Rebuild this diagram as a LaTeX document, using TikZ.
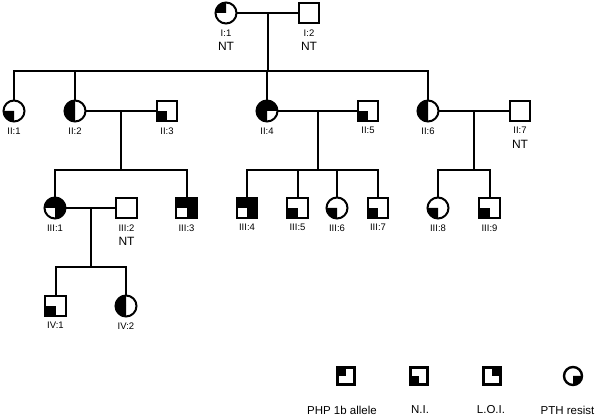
\documentclass[tikz,border=0pt]{standalone}
\usepackage{fontspec}
\setmainfont{Liberation Sans}
\usetikzlibrary{positioning}

% 方块的四分之一涂黑
\newcommand{\sqfill}[2]{\fill (#1.center) rectangle (#1.#2);}
% 圆的四分之一涂黑
\newcommand{\cifill}[3][10.5pt]{\fill (#2.center) -- ++(#3:#1) arc[start angle=#3, delta angle=90, radius=#1] -- cycle;}

\begin{document}
\begin{tikzpicture}[
        x=1pt, y=1pt,
        female/.style={circle, draw=black, fill=white, line width=2pt, minimum size=21pt, inner sep=0pt, outer sep=0pt},
        male/.style={rectangle, draw=black, fill=white, line width=2pt, minimum size=20.5pt, inner sep=0pt, outer sep=0pt},
        keysq/.style={male, minimum size=17pt, line width=2.4pt},
        keyci/.style={female, minimum size=18pt, line width=2.4pt},
        line/.style={line width=2pt},
        sib/.style={line width=2pt, line cap=rect},
        tag/.style={font=\fontsize{9.5}{10}\selectfont, inner sep=0pt},
        nt/.style={font=\fontsize{12}{13}\selectfont, inner sep=0pt},
        keytext/.style={font=\fontsize{11.5}{13}\selectfont, inner sep=0pt}
    ]
    \useasboundingbox (0,0) rectangle (598,-419);

    % ---------- 第一代 ----------
    \node[female] (I1) at (226,-13) {};
    \node[male] (I2) at (309,-13) {};

    % ---------- 第二代 ----------
    \foreach \n/\x in {II1/14, II2/75, II4/267, II6/428}
        \node[female] (\n) at (\x,-111) {};
    \foreach \n/\x in {II3/167, II5/368, II7/520}
        \node[male] (\n) at (\x,-111) {};

    % ---------- 第三代 ----------
    \foreach \n/\x in {III1/55, III6/337, III8/438}
        \node[female] (\n) at (\x,-208) {};
    \foreach \n/\x in {III2/126.5, III3/186.5, III4/247, III5/297.5, III7/378, III9/489.5}
        \node[male] (\n) at (\x,-208) {};

    % ---------- 第四代 ----------
    \node[male] (IV1) at (55.5,-306) {};
    \node[female] (IV2) at (126,-306) {};

    % ---------- 涂黑 ----------
    \foreach \n/\q in {II3/south west, II5/south west, III3/north west, III3/north east,
        III3/south east, III4/north west, III4/north east, III4/south east,
        III5/south west, III7/south west, III9/south west, IV1/south west}
        {\sqfill{\n}{\q}}
    \foreach \n/\a in {I1/90, II1/180, II2/90, II2/180, II4/0, II4/90, II4/180,
        II6/90, II6/180, III1/0, III1/90, III1/270, III6/180, III8/180, IV2/90, IV2/180}
        {\cifill{\n}{\a}}

    % ---------- 婚线与子代线 ----------
    \coordinate (m1) at (267.5,-13);  \coordinate (s1) at (267.5,-71.5);
    \coordinate (m2) at (121,-111); \coordinate (s2) at (121,-170);
    \coordinate (m3) at (318,-111); \coordinate (s3) at (318,-170);
    \coordinate (m4) at (474,-111); \coordinate (s4) at (474,-170);
    \coordinate (m5) at (91,-208); \coordinate (s5) at (91,-267);

    \draw[line] (I1) -- (I2);
    \draw[line] (II2) -- (II3);
    \draw[line] (II4) -- (II5);
    \draw[line] (II6) -- (II7);
    \draw[line] (III1) -- (III2);

    \foreach \i in {1,...,5}
        \draw[line] (m\i) -- (s\i);

    \draw[sib] (II1 |- s1) -- (II6 |- s1);
    \draw[sib] (III1 |- s2) -- (III3 |- s2);
    \draw[sib] (III4 |- s3) -- (III7 |- s3);
    \draw[sib] (III8 |- s4) -- (III9 |- s4);
    \draw[sib] (IV1 |- s5) -- (IV2 |- s5);

    \foreach \c/\s in {II1/s1, II2/s1, II4/s1, II6/s1, III1/s2, III3/s2,
        III4/s3, III5/s3, III6/s3, III7/s3, III8/s4, III9/s4, IV1/s5, IV2/s5}
        \draw[line] (\c.north) -- (\c |- \s);

    % ---------- 编号 ----------
    \foreach \n/\t in {I1/I:1, I2/I:2, II1/II:1, II2/II:2, II3/II:3, II4/II:4, II5/II:5,
        II6/II:6, II7/II:7, III1/III:1, III2/III:2, III3/III:3, III4/III:4, III5/III:5,
        III6/III:6, III7/III:7, III8/III:8, III9/III:9, IV1/IV:1, IV2/IV:2}
        \node[tag, below=6pt of \n] (\n-t) {\t};

    \foreach \n in {I1, I2, II7, III2}
        \node[nt, below=5.5pt of \n-t] (\n-nt) {NT};

    % ---------- 图例 ----------
    \node[keysq] (LgA) at (346,-376) {};
    \node[keysq] (LgB) at (419,-376) {};
    \node[keysq] (LgC) at (492,-376) {};
    \node[keyci] (LgD) at (573,-376) {};
    \sqfill{LgA}{north west}
    \sqfill{LgB}{south west}
    \sqfill{LgC}{north east}
    \cifill[9pt]{LgD}{270}

    \node[keytext, below=21pt of LgA, xshift=-4pt] (LgA-t) {PHP 1b allele};
    \node[keytext, below=21pt of LgB, xshift=1pt] (LgB-t) {N.I.};
    \node[keytext, below=21pt of LgC, xshift=-1pt] (LgC-t) {L.O.I.};
    \node[keytext, below=21pt of LgD, xshift=-5.5pt] (LgD-t) {PTH resist};

\end{tikzpicture}
\end{document}
